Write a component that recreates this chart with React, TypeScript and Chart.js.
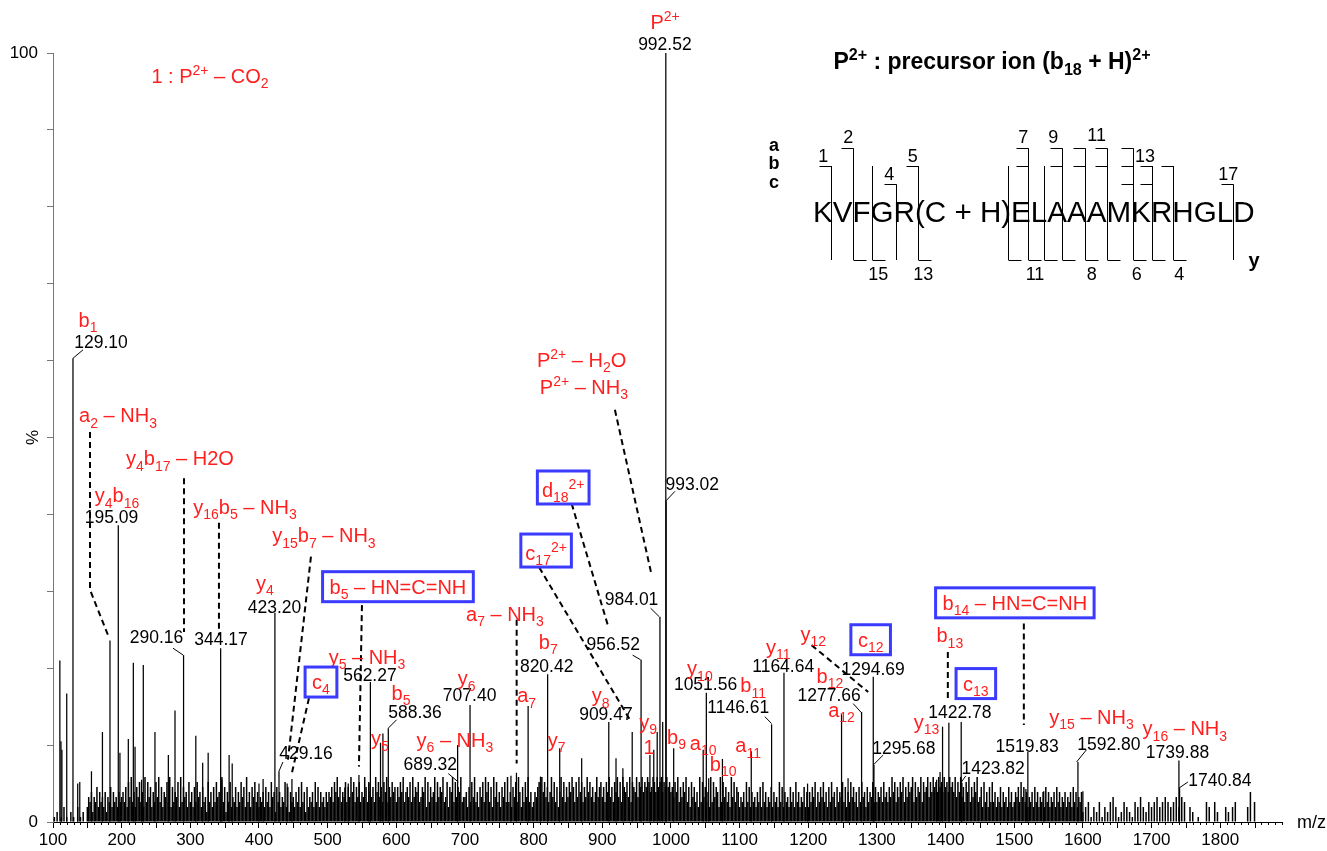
import React, { useEffect, useRef } from 'react';
import { Chart, registerables } from 'chart.js';

Chart.register(...registerables);

const FONT = "'Liberation Sans', Arial, Helvetica, sans-serif";
const RED = '#ff1f1f';
const BLUE = '#3b3bff';

// ---------- data ----------
const xTickLabels = [100, 200, 300, 400, 500, 600, 700, 800, 900, 1000, 1100, 1200, 1300, 1400, 1500, 1600, 1700, 1800];
const yTickLabels = [0, 100];

// labelled / prominent peaks (m/z, relative intensity %)
const peakMz = [
  110, 111.6, 113, 120, 129.1, 136, 139, 156, 172, 183, 195.09, 197.5, 209.7, 217, 219.5, 229, 231.5, 248.5, 268, 277.7,
  290.16, 308, 318, 326, 344.17, 346, 356.5, 361, 400, 406, 423.2, 429.16, 441, 448, 525, 530, 545.6, 560, 562.27, 577,
  580.5, 588.36, 689.32, 707.4, 767, 775, 792, 810, 820.42, 838, 870, 909.47, 920, 930, 943.6, 956.52, 969.4, 975, 980, 984.01,
  988, 992.52, 993.02, 1004, 1047, 1051.56, 1055, 1075, 1117, 1146.61, 1164.64, 1199, 1248.5, 1258, 1277.66, 1294.69, 1295.68, 1387, 1392, 1395.6,
  1404.8, 1422.78, 1423.82, 1517, 1519.83, 1543, 1592.8, 1600, 1739.88, 1740.84
];
const peakPct = [
  21.0, 10.5, 9.4, 16.7, 60.3, 5.0, 5.2, 6.6, 11.7, 23.6, 38.6, 9.0, 10.8, 20.7, 9.8, 5.5, 20.4, 11.7, 8.7, 14.5,
  21.7, 11.2, 7.7, 9.0, 22.6, 5.5, 8.7, 7.6, 5.0, 5.6, 27.2, 6.6, 5.0, 5.6, 4.5, 5.0, 6.1, 5.0, 18.2, 10.3,
  11.5, 12.2, 10.0, 15.2, 6.0, 6.4, 15.1, 5.9, 19.2, 9.6, 8.3, 13.0, 8.3, 7.0, 11.7, 21.1, 8.7, 9.4, 11.7, 26.7,
  13.0, 100, 41.7, 9.6, 9.4, 16.8, 5.7, 8.2, 9.2, 12.7, 19.4, 5.0, 14.0, 5.7, 14.3, 18.9, 7.4, 5.5, 6.5, 12.4,
  12.9, 13.0, 5.1, 4.3, 9.1, 4.0, 7.8, 4.0, 8.0, 4.4
];

// baseline noise: one digit per 2 m/z, each digit = 0.65 %
const noiseStart = [100, 200, 300, 400, 500, 600, 700, 800, 900, 1000, 1100, 1200, 1300, 1400, 1500, 1600, 1700, 1800];
const noiseRows = [
  '01020010301002010030102003546254736453625473645364',
  '56473859463758463948573648594736584937465839475638',
  '46374856374528463748563947264835473648573946375846',
  '35463746385627463548372645364738462735463847364536',
  '46574869574658475968475846597486574968574869475867',
  '47586946758495768457693847569485769458376948576945',
  '56374859463758496847395846375849463758496374859463',
  '46578496857469584736958475869748596847596857469578',
  '57486957486958497685948769587968798679869789687978',
  '67586947586947385746394857463948576394857463958476',
  '35463847364536473846354736453847364537463846354736',
  '36475836475846374856374658473648574637485637465847',
  '46574856475968475869475867948576948679586978697869',
  '78697869586957486947586945738463748463547364537463',
  '46574857463546374635463746354637463546354637463546',
  '20304010302040103020405030102040302010403050302040',
  '30405030405040304050305040003020001000004030004020',
  '000030200304000000003060040000000000000'
];
const noiseStep = 2;
const noiseUnit = 0.65;

// ---------- annotations (anchored in data coordinates: m/z, %) ----------
const numberLabels: [string, number, number][] = [
  ['129.10', 169.9, 62.4], ['195.09', 185.2, 39.7], ['290.16', 250.7, 24.1], ['344.17', 344.7, 23.9],
  ['423.20', 422.6, 28.0], ['429.16', 468.4, 9.0], ['562.27', 561.6, 19.2], ['588.36', 627.2, 14.4],
  ['707.40', 706.8, 16.5], ['689.32', 649.4, 7.6], ['820.42', 819.0, 20.3], ['909.47', 905.3, 14.1],
  ['956.52', 916.0, 23.2], ['984.01', 942.7, 29.1], ['992.52', 991.2, 101.2], ['993.02', 1031.0, 44.0],
  ['1051.56', 1050.4, 18.0], ['1146.61', 1098.0, 15.0], ['1164.64', 1163.5, 20.3], ['1277.66', 1230.5, 16.6],
  ['1294.69', 1294.6, 20.0], ['1295.68', 1339.2, 9.6], ['1422.78', 1420.8, 14.3], ['1423.82', 1469.3, 7.0],
  ['1519.83', 1518.8, 9.9], ['1592.80', 1637.8, 10.2], ['1739.88', 1737.8, 9.1], ['1740.84', 1799.5, 5.5]
];
const ionLabels: [string, number, number][] = [
  ['b_{1}', 151.0, 65.3], ['a_{2} – NH_{3}', 194.7, 52.9], ['y_{4}b_{16}', 193.2, 42.5],
  ['y_{4}b_{17} – H2O', 284.9, 47.3], ['y_{16}b_{5} – NH_{3}', 379.6, 41.0], ['y_{15}b_{7} – NH_{3}', 494.6, 37.3],
  ['y_{4}', 408.7, 31.1], ['y_{5} – NH_{3}', 557.3, 21.5], ['b_{5}', 606.8, 16.8], ['y_{5}', 576.2, 10.9],
  ['y_{6}', 702.4, 18.7], ['y_{6} – NH_{3}', 685.4, 10.7], ['a_{7} – NH_{3}', 758.2, 27.1], ['b_{7}', 821.3, 23.4],
  ['a_{7}', 789.8, 16.5], ['y_{7}', 833.5, 10.7], ['y_{8}', 897.6, 16.5], ['y_{9}', 966.9, 13.0], ['1', 968.3, 9.8],
  ['b_{9}', 1008.2, 11.1], ['a_{10}', 1047.0, 10.3], ['b_{10}', 1076.1, 7.6], ['y_{10}', 1042.2, 20.0],
  ['b_{11}', 1119.8, 17.8], ['a_{11}', 1112.5, 10.0], ['y_{11}', 1156.2, 22.8], ['y_{12}', 1207.2, 24.5],
  ['b_{12}', 1231.5, 19.0], ['a_{12}', 1248.5, 14.6], ['b_{13}', 1406.2, 24.3], ['y_{13}', 1372.3, 13.0],
  ['y_{15} – NH_{3}', 1612.6, 13.7], ['y_{16} – NH_{3}', 1748.5, 12.2], ['P^{2+}', 991.4, 104.0],
  ['P^{2+} – H_{2}O', 869.9, 60.1], ['P^{2+} – NH_{3}', 873.3, 56.6], ['1 : P^{2+} – CO_{2}', 328.6, 97.1]
];
const boxedLabels: [string, number, number][] = [
  ['c_{4}', 490.3, 18.2], ['b_{5} – HN=C=NH', 602.4, 30.6], ['d_{18}^{2+}', 843.1, 43.5], ['c_{17}^{2+}', 818.2, 35.3],
  ['c_{12}', 1290.9, 23.7], ['c_{13}', 1444.1, 18.0], ['b_{14} – HN=C=NH', 1500.9, 28.5]
];
const dashedLinks: [number, number][][] = [
  [[153.9, 50.7], [153.9, 30.2], [180.1, 24.3]], [[290.8, 44.7], [290.8, 24.7]], [[341.7, 38.9], [341.7, 24.3]],
  [[475.7, 34.5], [442.2, 8.1]], [[472.8, 16.1], [448.0, 6.4]], [[550.0, 28.2], [545.6, 7.2]],
  [[775.3, 26.3], [775.3, 7.6]], [[808.2, 33.1], [940.3, 13.3]], [[855.4, 41.4], [908.7, 25.4]],
  [[918.4, 53.6], [971.9, 32.1]], [[1204.8, 23.0], [1287.3, 16.9]], [[1403.3, 22.1], [1403.3, 15.9]],
  [[1514, 25.8], [1514, 12.6]]
];
const leaderLinks: [number, number][][] = [
  [[143.7, 61.4], [129.1, 60.3]], [[274.8, 22.6], [289.7, 21.7]], [[434.9, 7.8], [429.1, 6.6]],
  [[600.5, 13.3], [588.3, 12.2]], [[675.7, 6.3], [690.2, 5.2]], [[1136.8, 13.7], [1146.6, 12.8]],
  [[1265.4, 15.4], [1277.6, 14.2]], [[1309.1, 8.7], [1294.5, 7.4]], [[1429.5, 6.0], [1422.2, 5.1]],
  [[1605.3, 9.4], [1590.8, 7.8]], [[1752.9, 5.2], [1739.8, 4.4]], [[1005.8, 43.0], [992.2, 41.7]],
  [[970.4, 27.8], [982.9, 26.7]], [[944.2, 21.7], [955.8, 21.1]]
];

// ---------- sequence diagram (inset, page pixels) ----------
const seqText = 'KVFGR(C + H)ELAAAMKRHGLD';
const seqLevels: Record<string, number> = { a: 148.3, b: 166, c: 184.3 };
const seqBreaks: { x: number; top: string[]; bottom: boolean }[] = [
  { x: 831, top: ['b'], bottom: false }, { x: 853.3, top: ['a'], bottom: true }, { x: 871.7, top: [], bottom: true },
  { x: 895.7, top: ['c'], bottom: false }, { x: 917.7, top: ['b'], bottom: true }, { x: 1008.3, top: [], bottom: true },
  { x: 1028.3, top: ['a', 'b'], bottom: true }, { x: 1044, top: [], bottom: true }, { x: 1061.7, top: ['a', 'b'], bottom: true },
  { x: 1085, top: ['a', 'b'], bottom: true }, { x: 1106.7, top: ['a', 'b'], bottom: true }, { x: 1132.7, top: ['a', 'b', 'c'], bottom: true },
  { x: 1151.7, top: ['b', 'c'], bottom: true }, { x: 1173.3, top: ['b'], bottom: true }, { x: 1233.3, top: ['c'], bottom: false }
];
const seqTopNums: [string, number, number][] = [
  ['1', 823.3, 156.7], ['2', 848.3, 138], ['4', 889.3, 175], ['5', 912.7, 156.7], ['7', 1023.3, 138],
  ['9', 1053.3, 138], ['11', 1096.7, 136], ['13', 1145, 156.7], ['17', 1228.3, 175]
];
const seqBottomNums: [string, number][] = [
  ['15', 878.3], ['13', 923.3], ['11', 1035], ['8', 1091.7], ['6', 1136.7], ['4', 1179.3]
];

// ---------- rich text helper ----------
type Part = { t: string; k: 'n' | 'sub' | 'sup' };
function parseRich(s: string): Part[] {
  const parts: Part[] = [];
  const re = /([_^])\{([^}]*)\}/g;
  let last = 0;
  let m: RegExpExecArray | null;
  while ((m = re.exec(s))) {
    if (m.index > last) parts.push({ t: s.slice(last, m.index), k: 'n' });
    parts.push({ t: m[2], k: m[1] === '_' ? 'sub' : 'sup' });
    last = re.lastIndex;
  }
  if (last < s.length) parts.push({ t: s.slice(last), k: 'n' });
  return parts;
}
function fontFor(k: string, size: number, bold: boolean) {
  const sz = k === 'n' ? size : size * 0.7;
  return `${bold ? 'bold ' : ''}${sz}px ${FONT}`;
}
function richWidth(ctx: CanvasRenderingContext2D, s: string, size: number, bold = false) {
  let w = 0;
  for (const p of parseRich(s)) {
    ctx.font = fontFor(p.k, size, bold);
    w += ctx.measureText(p.t).width;
  }
  return w;
}
function drawRich(ctx: CanvasRenderingContext2D, s: string, cx: number, cy: number, size: number, color: string, bold = false, align = 'center') {
  const w = richWidth(ctx, s, size, bold);
  let x = align === 'center' ? cx - w / 2 : align === 'left' ? cx : cx - w;
  const base = cy + size * 0.36;
  ctx.fillStyle = color;
  ctx.textAlign = 'left';
  ctx.textBaseline = 'alphabetic';
  for (const p of parseRich(s)) {
    ctx.font = fontFor(p.k, size, bold);
    const off = p.k === 'sub' ? size * 0.26 : p.k === 'sup' ? -size * 0.4 : 0;
    ctx.fillText(p.t, x, base + off);
    x += ctx.measureText(p.t).width;
  }
  return w;
}

const annotationPlugin = {
  id: 'spectrumAnnotations',
  afterDraw(chart: any) {
    const { ctx, chartArea } = chart;
    const xs = chart.scales.x;
    const ys = chart.scales.y;
    const px = (v: number) => xs.getPixelForValue(v);
    const py = (v: number) => ys.getPixelForValue(v);
    ctx.save();

    // minor x ticks
    ctx.strokeStyle = '#000';
    ctx.lineWidth = 1;
    ctx.beginPath();
    for (let v = xs.min; v <= xs.max; v += 10) {
      if (v % 100 === 0) continue;
      const X = Math.round(px(v)) + 0.5;
      const len = v % 50 === 0 ? 6 : 3;
      ctx.moveTo(X, chartArea.bottom);
      ctx.lineTo(X, chartArea.bottom + len);
    }
    ctx.stroke();

    // axis titles
    ctx.fillStyle = '#000';
    ctx.font = `18px ${FONT}`;
    ctx.textAlign = 'left';
    ctx.textBaseline = 'middle';
    ctx.fillText('m/z', chartArea.right + 15, chartArea.bottom + 1);
    ctx.save();
    ctx.translate(chartArea.left - 20, py(50));
    ctx.rotate(-Math.PI / 2);
    ctx.textAlign = 'center';
    ctx.font = `17px ${FONT}`;
    ctx.fillText('%', 0, 0);
    ctx.restore();

    // dashed links
    ctx.strokeStyle = '#000';
    ctx.lineWidth = 2;
    ctx.setLineDash([6, 4]);
    for (const pts of dashedLinks) {
      ctx.beginPath();
      pts.forEach(([m, p], i) => (i ? ctx.lineTo(px(m), py(p)) : ctx.moveTo(px(m), py(p))));
      ctx.stroke();
    }
    ctx.setLineDash([]);
    // leaders
    ctx.lineWidth = 1;
    for (const pts of leaderLinks) {
      ctx.beginPath();
      pts.forEach(([m, p], i) => (i ? ctx.lineTo(px(m), py(p)) : ctx.moveTo(px(m), py(p))));
      ctx.stroke();
    }

    // labels
    for (const [t, m, p] of numberLabels) drawRich(ctx, t, px(m), py(p), 17.5, '#000');
    for (const [t, m, p] of ionLabels) drawRich(ctx, t, px(m), py(p), 20, RED);
    for (const [t, m, p] of boxedLabels) {
      const cx = px(m);
      const cy = py(p);
      const hasSup = t.includes('^');
      const w = richWidth(ctx, t, 20) + (hasSup ? 9 : 14);
      const h = hasSup ? 33 : 30;
      ctx.fillStyle = '#fff';
      ctx.fillRect(cx - w / 2, cy - h / 2, w, h);
      ctx.strokeStyle = BLUE;
      ctx.lineWidth = 3;
      ctx.strokeRect(cx - w / 2, cy - h / 2, w, h);
      drawRich(ctx, t, cx, cy + (hasSup ? 2 : 0), 20, RED);
    }

    // title
    drawRich(ctx, 'P^{2+} : precursor ion (b_{18} + H)^{2+}', 992, 61, 23, '#000', true);

    // sequence diagram
    ctx.strokeStyle = '#000';
    ctx.lineWidth = 1;
    const bottomY = 260;
    for (const b of seqBreaks) {
      const X = Math.round(b.x) + 0.5;
      const topY = b.top.length ? Math.min(...b.top.map((l) => seqLevels[l])) : seqLevels.b;
      ctx.beginPath();
      ctx.moveTo(X, topY);
      ctx.lineTo(X, bottomY);
      for (const l of b.top) {
        const Y = Math.round(seqLevels[l]) + 0.5;
        ctx.moveTo(X - 12, Y);
        ctx.lineTo(X, Y);
      }
      if (b.bottom) {
        ctx.moveTo(X, bottomY + 0.5);
        ctx.lineTo(X + 13, bottomY + 0.5);
      }
      ctx.stroke();
    }
    ctx.fillStyle = '#000';
    ctx.font = `29.6px ${FONT}`;
    ctx.textAlign = 'left';
    ctx.textBaseline = 'alphabetic';
    ctx.fillText(seqText, 813, 221.7);
    ctx.font = `18px ${FONT}`;
    ctx.textAlign = 'center';
    ctx.textBaseline = 'middle';
    for (const [t, X, Y] of seqTopNums) ctx.fillText(t, X, Y);
    for (const [t, X] of seqBottomNums) ctx.fillText(t, X, 275);
    ctx.font = `bold 18px ${FONT}`;
    ctx.fillText('a', 774, 146);
    ctx.fillText('b', 774, 164);
    ctx.fillText('c', 774, 183);
    ctx.font = `bold 20px ${FONT}`;
    ctx.fillText('y', 1254, 261);

    ctx.restore();
  }
};

export default function App() {
  const ref = useRef<HTMLCanvasElement>(null);
  useEffect(() => {
    const noiseData: { x: number; y: number }[] = [];
    noiseRows.forEach((row, r) => {
      for (let i = 0; i < row.length; i++) {
        const d = Number(row[i]);
        if (d > 0) noiseData.push({ x: noiseStart[r] + i * noiseStep, y: d * noiseUnit });
      }
    });
    const peakData = peakMz.map((m, i) => ({ x: m, y: peakPct[i] }));

    const chart = new Chart(ref.current as HTMLCanvasElement, {
      type: 'bar',
      data: {
        datasets: [
          { label: 'noise', data: noiseData as any, backgroundColor: '#000', borderWidth: 0, barThickness: 1.5, grouped: false, inflateAmount: 0 } as any,
          { label: 'peaks', data: peakData as any, backgroundColor: '#000', borderWidth: 0, barThickness: 1.25, grouped: false, inflateAmount: 0 } as any
        ]
      },
      options: {
        responsive: false,
        animation: false,
        devicePixelRatio: 1,
        events: [],
        layout: { padding: { top: 53, right: 45, left: 0, bottom: 0 } },
        plugins: { legend: { display: false }, tooltip: { enabled: false } },
        scales: {
          x: {
            type: 'linear',
            min: 100,
            max: 1890,
            offset: false,
            afterBuildTicks: (s: any) => {
              s.ticks = xTickLabels.map((v) => ({ value: v }));
            },
            afterFit: (s: any) => {
              s.height = 29;
            },
            ticks: {
              font: { size: 17, family: FONT },
              color: '#000',
              maxRotation: 0,
              autoSkip: false,
              padding: 2,
              callback: (v: any) => String(v)
            },
            grid: { drawOnChartArea: false, drawTicks: true, tickLength: 6, color: '#000', offset: false },
            border: { display: true, color: '#000', width: 1 }
          },
          y: {
            type: 'linear',
            min: 0,
            max: 100,
            afterFit: (s: any) => {
              s.width = 53;
            },
            ticks: {
              stepSize: 10,
              autoSkip: false,
              font: { size: 17, family: FONT },
              color: '#000',
              padding: 9,
              callback: (v: any) => (yTickLabels.includes(Number(v)) ? String(v) : '')
            },
            grid: { drawOnChartArea: false, drawTicks: true, tickLength: 6, color: '#777' },
            border: { display: true, color: '#777', width: 1 }
          }
        }
      } as any,
      plugins: [annotationPlugin]
    });
    return () => chart.destroy();
  }, []);
  return (
    <div style={{ position: 'fixed', left: 0, top: 0, width: 1327, height: 851, background: '#fff' }}>
      <canvas ref={ref} width={1327} height={851} style={{ display: 'block', width: 1327, height: 851 }} />
    </div>
  );
}
